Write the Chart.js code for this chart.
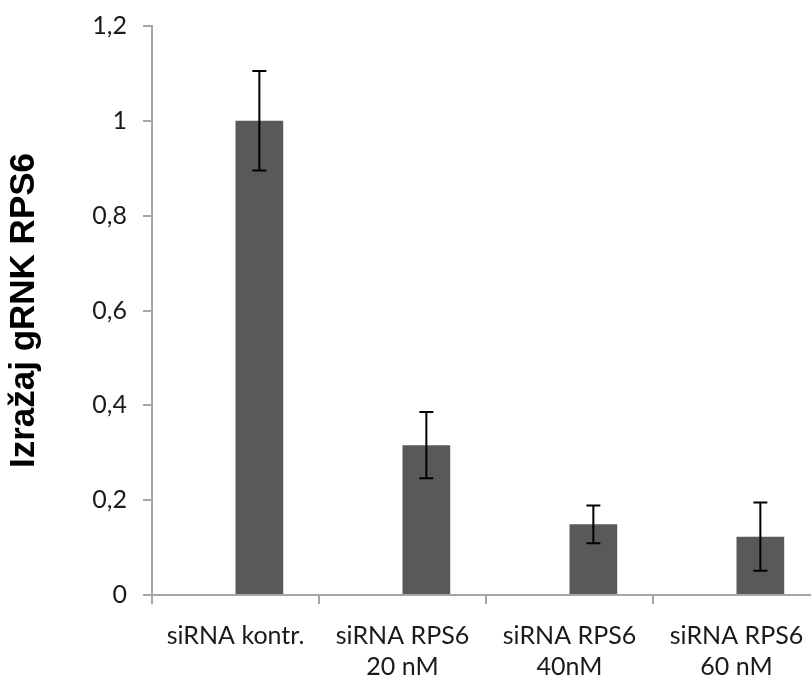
<!DOCTYPE html>
<html>
<head>
<meta charset="utf-8">
<script src="https://cdn.jsdelivr.net/npm/chart.js@4"></script>
<style>
  html, body { margin: 0; padding: 0; background: #fff; overflow: hidden; }
  #wrap { width: 825px; height: 680px; }
</style>
</head>
<body>
<div id="wrap"><canvas id="chart"></canvas></div>
<script>
const d = document;

// podaci
const categories = ['siRNA kontr.', ['siRNA RPS6', '20 nM'], ['siRNA RPS6', '40nM'], ['siRNA RPS6', '60 nM']];
const values = [1.0, 0.316, 0.149, 0.123];
const errors = [0.105, 0.07, 0.04, 0.072];
const emptySeries = [null, null, null, null];
const yTickLabels = ['0', '0,2', '0,4', '0,6', '0,8', '1', '1,2'];

const axisGray = '#a6a6a6';
const labelFont = "Lato, 'Open Sans', sans-serif";

// error bars
const errorBars = {
    id: 'errorBars',
    afterDatasetsDraw(chart) {
        const ctx = chart.ctx;
        const meta = chart.getDatasetMeta(1);
        const y = chart.scales.y;
        ctx.save();
        ctx.strokeStyle = '#000';
        ctx.lineWidth = 2;
        meta.data.forEach((bar, i) => {
            const top = y.getPixelForValue(values[i] + errors[i]);
            const bot = y.getPixelForValue(values[i] - errors[i]);
            ctx.beginPath();
            ctx.moveTo(bar.x, top); ctx.lineTo(bar.x, bot);
            ctx.moveTo(bar.x - 7, top); ctx.lineTo(bar.x + 7, top);
            ctx.moveTo(bar.x - 7, bot); ctx.lineTo(bar.x + 7, bot);
            ctx.stroke();
        });
        ctx.restore();
    }
};

new Chart(d.getElementById('chart').getContext('2d'), {
    type: 'bar',
    data: {
        labels: categories,
        datasets: [
            { data: emptySeries, backgroundColor: '#595959' },
            { data: values, backgroundColor: '#595959' }
        ]
    },
    options: {
        responsive: true,
        maintainAspectRatio: false,
        animation: false,
        categoryPercentage: 2 / 3.5,
        barPercentage: 1,
        layout: { padding: { top: 26, right: 5, left: 0, bottom: 0 } },
        plugins: { legend: { display: false }, tooltip: { enabled: false } },
        scales: {
            x: {
                offset: true,
                grid: { offset: true, drawOnChartArea: false, drawTicks: true, tickLength: 9, color: axisGray, lineWidth: 2 },
                border: { color: axisGray, width: 2 },
                ticks: { color: '#1a1a1a', font: { family: labelFont, size: 25, lineHeight: 1.22 }, padding: 17, maxRotation: 0, autoSkip: false },
                afterFit(s) { s.height = 85; }
            },
            y: {
                min: 0,
                max: 1.2,
                ticks: {
                    stepSize: 0.2,
                    color: '#1a1a1a',
                    padding: 16,
                    font: { family: labelFont, size: 25, lineHeight: 0.8 },
                    callback: (v, i) => yTickLabels[i]
                },
                grid: { drawOnChartArea: false, drawTicks: true, tickLength: 9, color: axisGray, lineWidth: 2 },
                border: { color: axisGray, width: 2 },
                title: {
                    display: true,
                    text: 'Izražaj gRNK RPS6',
                    color: '#000',
                    font: { family: "'Liberation Sans', Arial, sans-serif", size: 35, weight: 'bold' },
                    padding: { top: 3, bottom: 10 }
                },
                afterFit(s) { s.width = 152; }
            }
        }
    },
    plugins: [errorBars]
});
</script>
</body>
</html>
